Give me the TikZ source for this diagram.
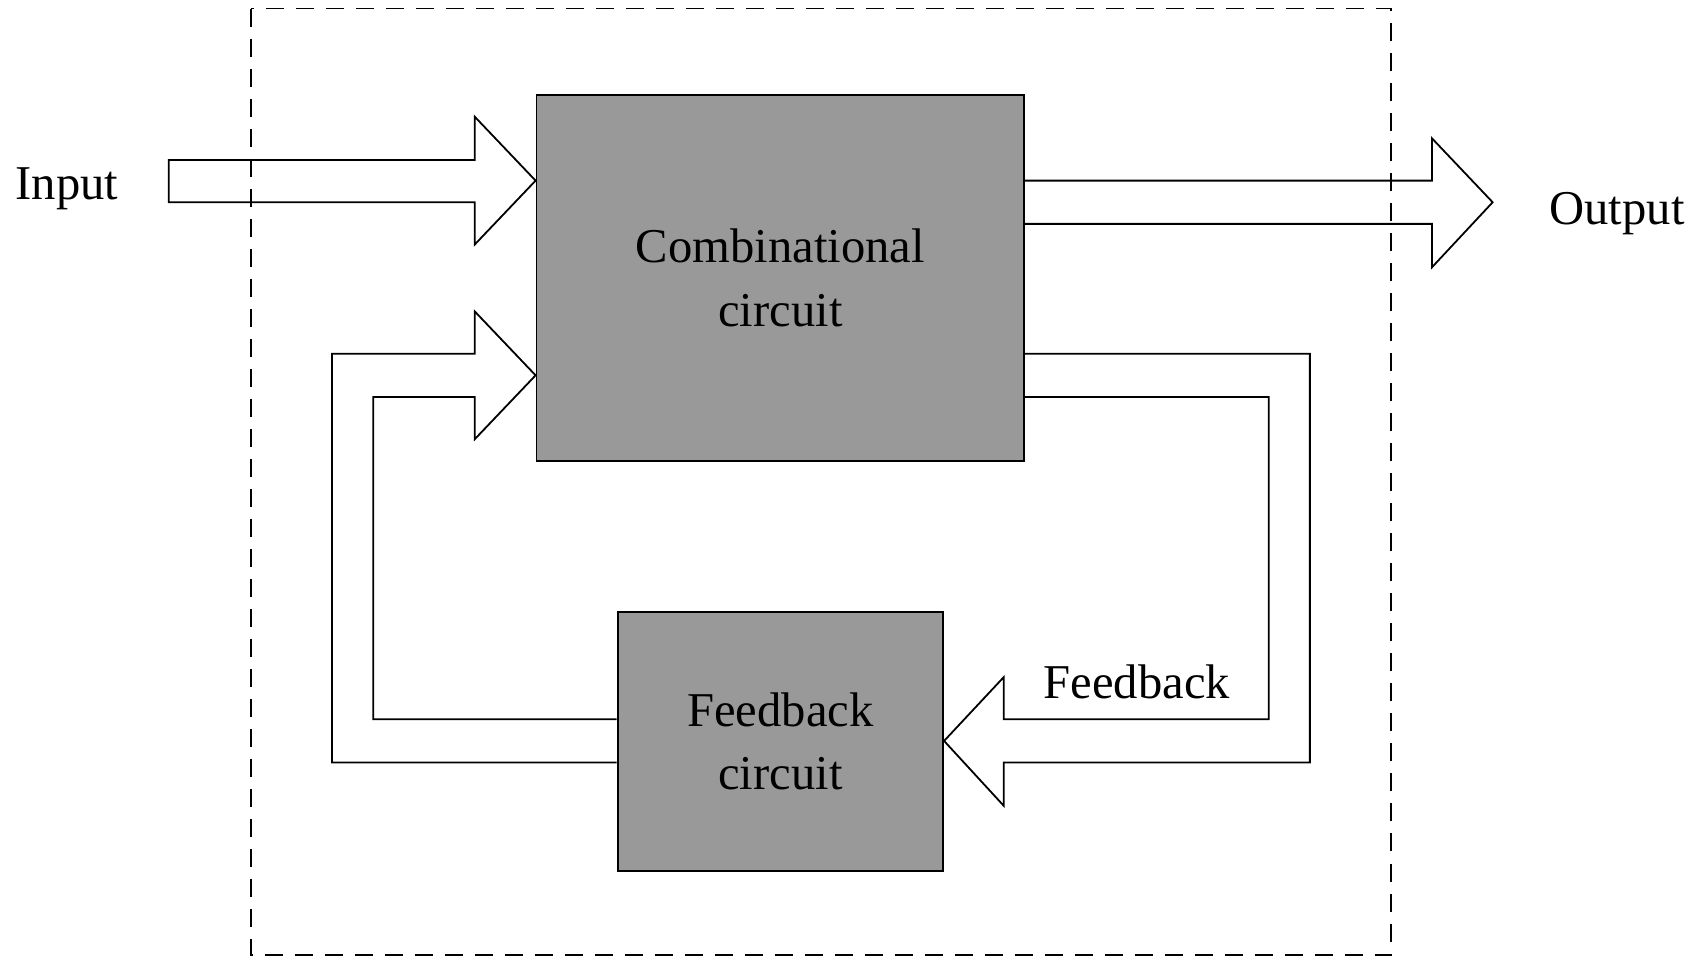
\documentclass[tikz,border=0pt]{standalone}
\usepackage{fontspec}
\setmainfont{Liberation Serif}
\usetikzlibrary{calc}
\definecolor{boxgray}{RGB}{153,153,153}
\begin{document}
\begin{tikzpicture}[x=0.5408pt,y=-0.5408pt,
  every node/.style={font=\fontsize{24.3}{31.9}\selectfont},
  block/.style={draw=black,line width=0.9pt,fill=boxgray,inner sep=0pt,align=center},
  bigarrow/.style={draw=black,line width=0.9pt,line join=miter},
  frame/.style={draw=black,line width=0.8pt,dash pattern=on 9pt off 6pt}]
\path[use as bounding box] (0,0) rectangle (1568,885);

\node[block,minimum width=243.9pt,minimum height=182.8pt] (combo) at (721.5,257) {Combinational\\circuit};
\node[block,minimum width=162.8pt,minimum height=129.25pt] (fb) at (721.5,685.5) {Feedback\\circuit};

% input arrow
\coordinate (inTip) at (combo.west |- 0,167);
\draw[bigarrow] (156,148) -- (439,148) -- (439,108) -- (inTip) -- (439,226) -- (439,187) -- (156,187) -- cycle;
% output arrow
\coordinate (outA) at (combo.east |- 0,167);
\coordinate (outB) at (combo.east |- 0,207);
\draw[bigarrow] (outA) -- (1324,167) -- (1324,128) -- (1380,187) -- (1324,247) -- (1324,207) -- (outB);
% feedback loop to combinational circuit
\coordinate (fbA) at (fb.west |- 0,705);
\coordinate (fbB) at (fb.west |- 0,665);
\coordinate (loopTip) at (combo.west |- 0,347);
\draw[bigarrow] (fbA) -- (307,705) -- (307,327) -- (439,327) -- (439,288) -- (loopTip) -- (439,406) -- (439,367) -- (345,367) -- (345,665) -- (fbB);
% feedback loop from combinational circuit
\coordinate (cA) at (combo.east |- 0,327);
\coordinate (cB) at (combo.east |- 0,367);
\coordinate (fbTip) at (fb.east |- 0,685);
\draw[bigarrow] (cA) -- (1211,327) -- (1211,705) -- (928,705) -- (928,745) -- (fbTip) -- (928,626) -- (928,665) -- (1173,665) -- (1173,367) -- (cB);

% dashed frame
\draw[frame] (232,8) rectangle (1286,883);

% labels
\node[anchor=base] (inLbl) at (62,184) {Input};
\node[anchor=base] (outLbl) at (1495,208) {Output};
\node[anchor=base] (fbLbl) at (1051,646) {Feedback};
\end{tikzpicture}
\end{document}
